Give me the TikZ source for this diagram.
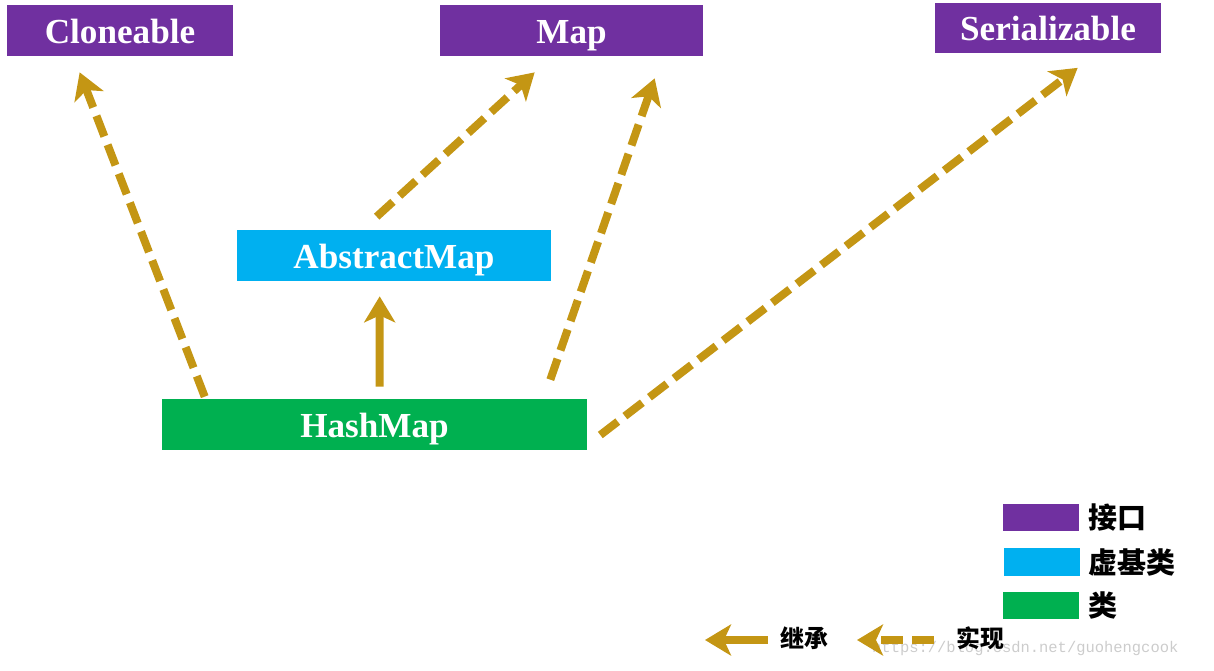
\documentclass[tikz,border=0pt]{standalone}
\usepackage{fontspec}
\setmainfont{Liberation Serif}
\newfontfamily\cjk{Noto Sans CJK SC}
\newfontfamily\wmfont{Liberation Mono}
\usetikzlibrary{arrows.meta,positioning,calc}
\definecolor{ifacepurple}{RGB}{112,48,160}
\definecolor{absblue}{RGB}{0,176,240}
\definecolor{clsgreen}{RGB}{0,176,80}
\definecolor{arrowgold}{RGB}{196,150,20}
\tikzset{
    box/.style={minimum height=1.02cm, inner sep=0pt, text=white,
        text height=0.6cm, text depth=0.1cm,
        font=\fontsize{20}{24}\selectfont\bfseries},
    iface/.style={box, fill=ifacepurple},
    absclass/.style={box, fill=absblue},
    concrete/.style={box, fill=clsgreen},
    inherit/.style={draw=arrowgold, line width=0.16cm,
        -{Stealth[length=0.52cm, width=0.62cm, inset=0.14cm, fill=arrowgold]}},
    implement/.style={inherit, dash pattern=on 0.44cm off 0.18cm},
    legbox/.style={minimum width=1.52cm, minimum height=0.55cm, inner sep=0pt},
    legtext/.style={font=\cjk\bfseries\fontsize{16.5}{18}\selectfont, inner sep=0pt}
}
\begin{document}
\begin{tikzpicture}[x=0.02cm, y=-0.02cm]
                    \useasboundingbox (0,0) rectangle (1214,670);
                    % Interfaces
                    \node[iface, minimum width=4.52cm] (clone) at (120,30.5) {Cloneable};
                    \node[iface, minimum width=5.26cm] (map) at (571.5,30.5) {Map};
                    \node[iface, minimum width=4.52cm] (ser) at (1048,28) {Serializable};
                    
                    % Classes
                    \node[absclass, minimum width=6.28cm] (abs) at (394,255.5) {AbstractMap};
                    \node[concrete, minimum width=8.5cm] (hash) at (374.5,424.5) {HashMap};
                    
                    % Relations
                    \draw[implement] ($(hash.north west)+(43,-2)$) -- ($(clone.south west)+(73,16)$);
                    \draw[implement] ($(abs.north west)+(140,-13)$) -- ($(map.south west)+(95,16)$);
                    \draw[inherit] ($(hash.north west)+(218,-12)$) -- ($(abs.south west)+(143,15)$);
                    \draw[implement] ($(hash.north east)+(-37,-19)$) -- ($(map.south west)+(215,22)$);
                    \draw[implement] ($(hash.east)+(13,10.5)$) -- ($(ser.south west)+(143,14)$);
                    
                    % Legend: colours
                    \node[legbox, fill=ifacepurple] (legiface) at (1041,517.5) {};
                    \node[legbox, fill=absblue] (legabs) at (1041.5,562) {};
                    \node[legbox, fill=clsgreen] (legcls) at (1041,605.5) {};
                    \node[legtext, right=9*0.02cm of legiface] (txtiface) {接口};
                    \node[legtext, right=8*0.02cm of legabs] (txtabs) {虚基类};
                    \node[legtext, right=9*0.02cm of legcls] (txtcls) {类};
                    
                    % Legend: arrows
                    \node[text=black!20, font=\wmfont\fontsize{8.8}{10}\selectfont, anchor=west] (mark) at (866,648) {https://blog.csdn.net/guohengcook};
                    \node[font=\cjk\bfseries\fontsize{13.6}{15}\selectfont, inner sep=0pt] (txtinh) at (804,638) {继承};
                    \node[font=\cjk\bfseries\fontsize{13.6}{15}\selectfont, inner sep=0pt] (txtimpl) at (980,638) {实现};
                    \coordinate (inhtip) at (705,640);
                    \coordinate (impltip) at (857,640);
                    \draw[inherit] ($(txtinh.west)+(-12,2)$) -- (inhtip);
                    \draw[implement] ($(txtimpl.west)+(-22,2)$) -- (impltip);
                \end{tikzpicture}
\end{document}
